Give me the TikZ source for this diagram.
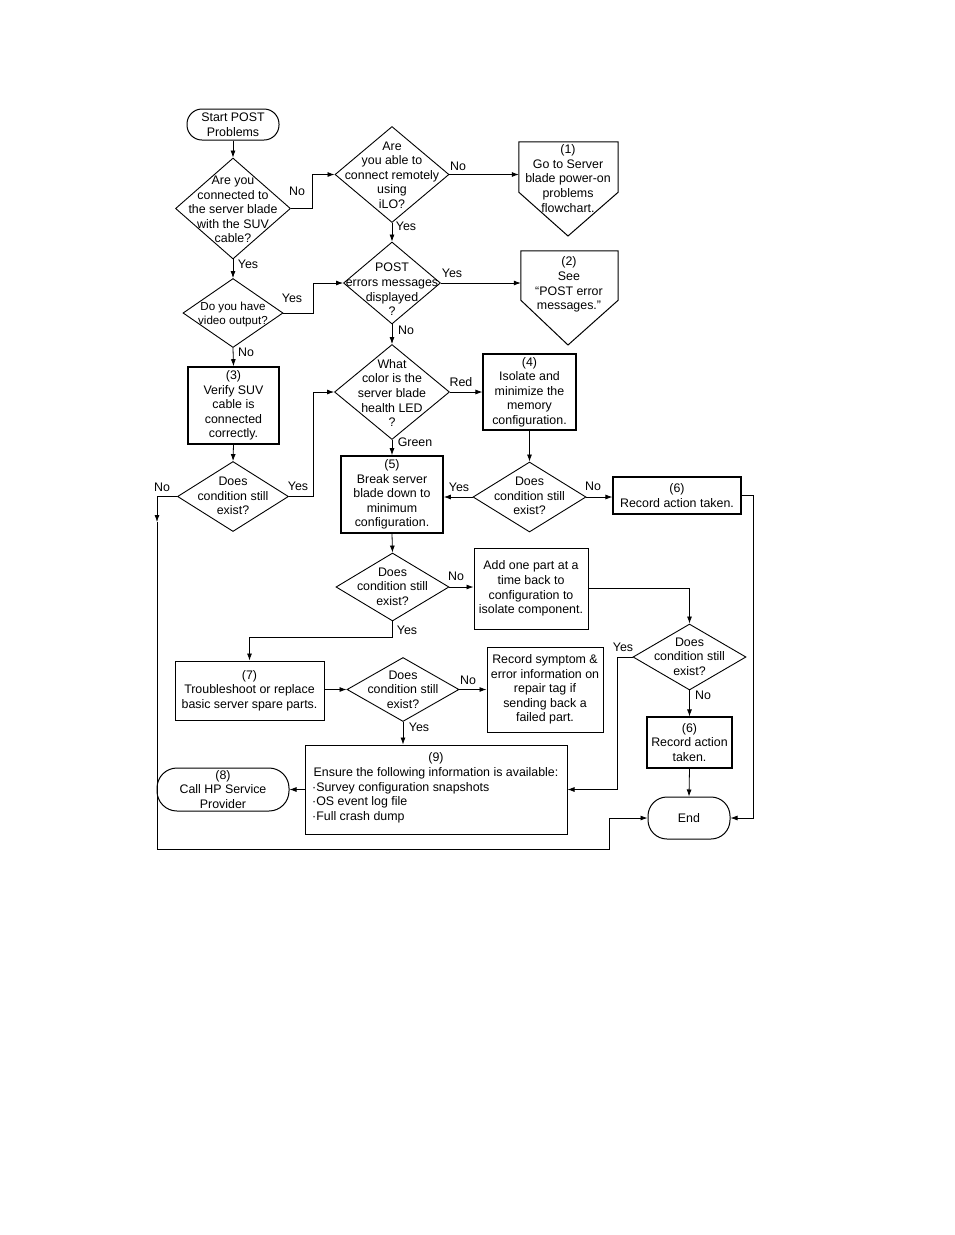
\documentclass[tikz,border=0pt]{standalone}
\usepackage{fontspec}
\setmainfont{Liberation Sans}
\usetikzlibrary{shapes.geometric,arrows.meta}
\begin{document}
\begin{tikzpicture}[x=1pt,y=-1pt,
  every node/.style={font=\fontsize{12.4}{14.6}\selectfont, align=center, inner sep=0pt},
  dia/.style={draw, shape=diamond, line width=0.9pt},
  box/.style={draw, shape=rectangle, line width=1.1pt},
  bbox/.style={draw, shape=rectangle, line width=1.6pt},
  term/.style={draw, shape=rectangle, line width=1pt},
  lbl/.style={font=\fontsize{12.4}{14.6}\selectfont},
  arr/.style={line width=0.8pt, -{Latex[length=7pt,width=5pt]}},
  ln/.style={line width=0.8pt}
]
\useasboundingbox (0,0) rectangle (954,1235);

% nodes
\node[term, rounded corners=15pt, minimum width=92pt, minimum height=31pt] (start) at (233,124.5) {Start POST\\Problems};

\node[dia, minimum width=115pt, minimum height=101pt] (d1) at (233,208.5) {};
\node (t1) at (233,209.5) {Are you\\connected to\\the server blade\\with the SUV\\cable?};

\node[dia, minimum width=114pt, minimum height=96pt] (d2) at (392,174.5) {};
\node (t2) at (392,175) {Are\\you able to\\connect remotely\\using\\iLO?};

\node[minimum width=99pt, minimum height=50pt] (p1) at (568.5,167) {};
\coordinate (p1tip) at (568,236);
\draw[line width=1pt] (p1.north west) -- (p1.north east) -- (p1.south east) -- (p1tip) -- (p1.south west) -- cycle;
\node (tp1) at (568,178.5) {(1)\\Go to Server\\blade power-on\\problems\\flowchart.};

\node[dia, minimum width=97pt, minimum height=82pt] (d3) at (392,283) {};
\node (t3) at (392,289.5) {POST\\errors messages\\displayed\\?};

\node[minimum width=97pt, minimum height=49pt] (p2) at (569.5,275.5) {};
\coordinate (p2tip) at (568,345);
\draw[line width=1pt] (p2.north west) -- (p2.north east) -- (p2.south east) -- (p2tip) -- (p2.south west) -- cycle;
\node (tp2) at (569,284.5) {(2)\\See\\“POST error\\messages.”};

\node[dia, minimum width=100pt, minimum height=69pt] (d4) at (233,313) {};
\node[font=\fontsize{11.6}{14}\selectfont] (t4) at (233,314) {Do you have\\video output?};

\node[bbox, minimum width=91pt, minimum height=77pt] (b3) at (233.5,405.5) {(3)\\Verify SUV\\cable is\\connected\\correctly.};

\node[dia, minimum width=111pt, minimum height=70pt] (d5) at (233,496.5) {};
\node (t5) at (233,496) {Does\\condition still\\exist?};

\node[dia, minimum width=115pt, minimum height=95pt] (d6) at (392,392) {};
\node (t6) at (392,393) {What\\color is the\\server blade\\health LED\\?};

\node[box, minimum width=93pt, minimum height=76pt] (b4) at (529.5,392) {(4)\\Isolate and\\minimize the\\memory\\configuration.};

\node[bbox, minimum width=102pt, minimum height=77pt] (b5) at (392,494.5) {(5)\\Break server\\blade down to\\minimum\\configuration.};

\node[dia, minimum width=113pt, minimum height=70pt] (d7) at (529.5,497) {};
\node (t7) at (529.5,496) {Does\\condition still\\exist?};

\node[box, minimum width=128pt, minimum height=37pt] (b6a) at (677,495.5) {(6)\\Record action taken.};

\node[dia, minimum width=113pt, minimum height=68pt] (d8) at (392.5,587) {};
\node (t8) at (392.5,586.5) {Does\\condition still\\exist?};

\node[box, line width=1pt, minimum width=114pt, minimum height=81pt] (add) at (531,588.5) {Add one part at a\\time back to\\configuration to\\isolate component.};

\node[dia, minimum width=113pt, minimum height=66pt] (d9) at (689.5,657) {};
\node (t9) at (689.5,656.5) {Does\\condition still\\exist?};

\node[box, line width=1pt, minimum width=149pt, minimum height=59pt] (b7) at (249.5,690.5) {(7)\\Troubleshoot or replace\\basic server spare parts.};

\node[dia, minimum width=112pt, minimum height=64pt] (d10) at (403,689.5) {};
\node (t10) at (403,689.5) {Does\\condition still\\exist?};

\node[box, line width=1pt, minimum width=116pt, minimum height=85pt] (rec) at (545,689.5) {Record symptom \&\\error information on\\repair tag if\\sending back a\\failed part.};

\node[box, minimum width=85pt, minimum height=51pt] (b6b) at (689.5,742.5) {(6)\\Record action\\taken.};

\node[term, rounded corners=19pt, minimum width=82pt, minimum height=42pt] (end) at (689,818) {End};

\node[box, line width=1pt, minimum width=262pt, minimum height=89pt] (b9) at (436,789.5) {};
\node (t9a) at (436,765.5) {(9)\\Ensure the following information is available:};
\node[align=left, anchor=west] (t9b) at (312,802.5) {·Survey configuration snapshots\\·OS event log file\\·Full crash dump};

\node[term, rounded corners=20pt, minimum width=132pt, minimum height=43pt] (b8) at (223,789.5) {(8)\\Call HP Service\\Provider};

% labels
\node[lbl] (l1) at (297,191) {No};
\node[lbl] (l2) at (248,264) {Yes};
\node[lbl] (l3) at (458,166) {No};
\node[lbl] (l4) at (406,226) {Yes};
\node[lbl] (l5) at (292,298) {Yes};
\node[lbl] (l6) at (452,273) {Yes};
\node[lbl] (l7) at (246,352) {No};
\node[lbl] (l8) at (406,330) {No};
\node[lbl] (l9) at (461,382) {Red};
\node[lbl] (l10) at (415,442) {Green};
\node[lbl] (l11) at (162,487) {No};
\node[lbl] (l12) at (298,486) {Yes};
\node[lbl] (l13) at (459,487) {Yes};
\node[lbl] (l14) at (593,486) {No};
\node[lbl] (l15) at (456,576) {No};
\node[lbl] (l16) at (407,630) {Yes};
\node[lbl] (l17) at (623,647) {Yes};
\node[lbl] (l18) at (703,695) {No};
\node[lbl] (l19) at (468,680) {No};
\node[lbl] (l20) at (419,727) {Yes};

% connectors
\draw[arr] (start.south) -- (d1.north);
\draw[arr] (d1.east) -- ++(21.5,0) |- (d2.west);
\draw[arr] (d2.east) -- (d2.east -| p1.west);
\draw[arr] (d2.south) -- (d3.north);
\draw[arr] (d1.south) -- (d4.north);
\draw[arr] (d4.east) -- ++(30,0) |- (d3.west);
\draw[arr] (d3.east) -- (d3.east -| p2.west);
\draw[arr] (d4.south) -- (b3.north);
\draw[arr] (d3.south) -- (d6.north);
\draw[arr] (b3.south) -- (d5.north);
\draw[arr] (d5.east) -- ++(24.5,0) |- (d6.west);
\draw[arr] (d6.east) -- (b4.west);
\draw[arr] (d6.south) -- (b5.north);
\draw[arr] (b4.south) -- (d7.north);
\draw[arr] (d7.west) -- (d7.west -| b5.east);
\draw[arr] (d7.east) -- (d7.east -| b6a.west);
\draw[arr] (b6a.east) -- ++(12,0) |- (end.east);
\draw[arr] (b5.south) -- (d8.north);
\draw[arr] (d8.east) -- (d8.east -| add.west);
\draw[arr] (d8.south) -- ++(0,16) -| (b7.north);
\draw[arr] (add.east) -| (d9.north);
\draw[arr] (d9.west) -- ++(-15,0) |- (b9.east);
\draw[arr] (d9.south) -- (b6b.north);
\draw[arr] (d10.west -| b7.east) -- (d10.west);
\draw[arr] (d10.east) -- (d10.east -| rec.west);
\draw[arr] (d10.south) -- (d10.south |- b9.north);
\draw[arr] (b9.west) -- (b8.east);
\draw[arr] (b6b.south) -- (end.north);
\coordinate (lm) at (157,522);
\coordinate (lp1) at (157,849);
\coordinate (lp2) at (609,849);
\draw[arr] (d5.west) -| (lm);
\draw[arr] (lm) -- (lp1) -- (lp2) |- (end.west);
\end{tikzpicture}
\end{document}
